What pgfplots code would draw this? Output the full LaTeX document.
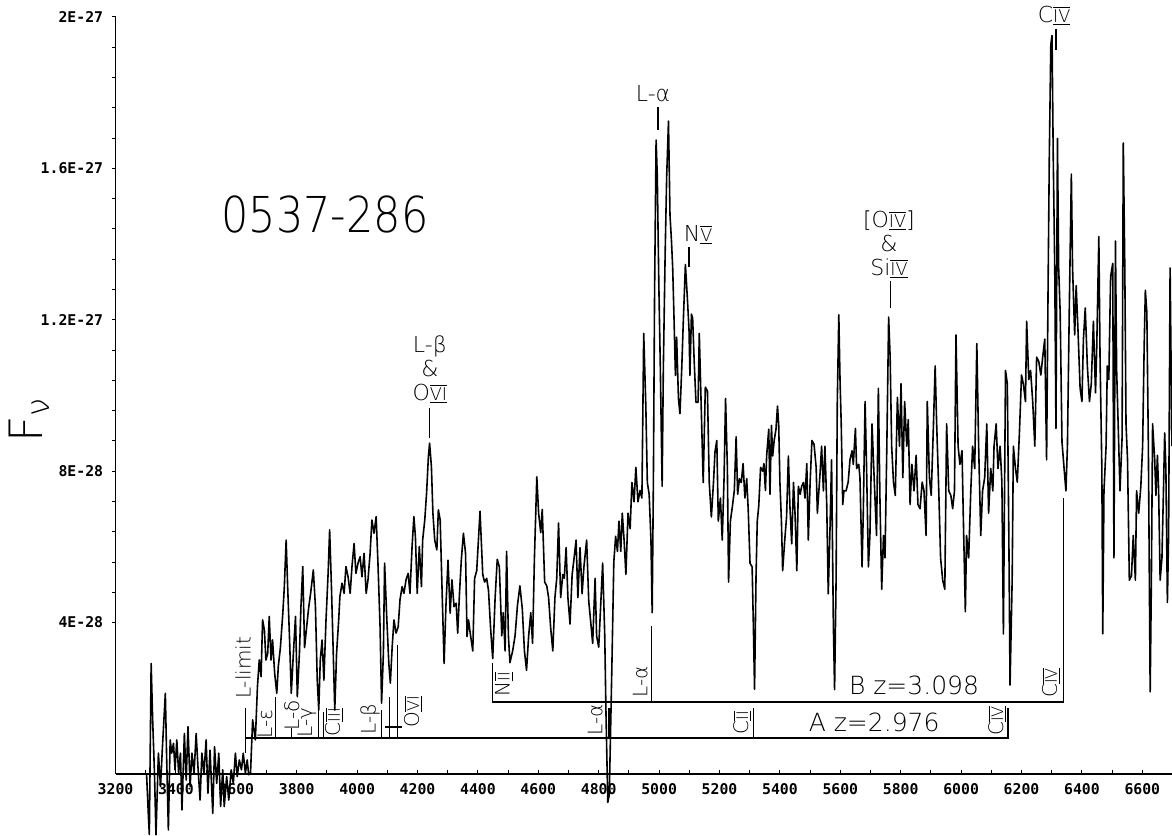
\documentclass[border=0pt]{standalone}
\usepackage{fontspec}
\usepackage{graphicx}
\usepackage{pgfplots}
\usepackage{pgfplotstable}
\pgfplotsset{compat=1.18}
\newfontfamily\thinfont{DejaVu Sans ExtraLight}
\newfontfamily\tickf{DejaVu Sans Mono}
\newcommand{\rn}[1]{\scalebox{0.8}{$\overline{\underline{\mbox{#1}}}$}}
\pgfplotstableread{
x y
3303 -0.03
3309 -1.13
3312 -1.60
3318 2.92
3323 1.43
3329 0.02
3334 -1.61
3342 0.55
3349 -0.33
3356 0.81
3365 2.13
3369 0.55
3375 -1.48
3381 0.90
3386 0.55
3392 0.81
3397 0.11
3403 0.90
3409 0.02
3415 0.55
3420 -0.95
3428 1.07
3434 -0.16
3440 1.25
3447 -0.33
3453 0.55
3460 0.02
3467 1.07
3473 0.19
3480 -0.69
3486 0.55
3493 0.02
3500 0.90
3506 -0.51
3513 0.63
3522 -1.04
3528 0.72
3535 -0.25
3542 0.55
3548 -0.86
3555 0.11
3560 -0.86
3568 -0.07
3575 -0.69
3583 0.11
3590 -0.25
3597 0.55
3603 -0.07
3610 0.37
3617 0.11
3623 0.55
3630 0.02
3636 0.37
3641 -0.02
3647 0.02
3654 1.43
3663 0.90
3670 2.31
3676 3.01
3682 2.57
3687 4.07
3693 3.80
3698 3.01
3704 3.19
3709 4.16
3715 3.01
3720 3.54
3727 2.66
3734 2.13
3739 2.84
3746 3.34
3754 4.25
3759 4.95
3765 6.18
3770 4.95
3776 3.63
3782 2.13
3789 3.19
3796 4.16
3802 2.04
3809 3.19
3814 4.42
3820 5.48
3826 3.34
3833 3.89
3840 4.42
3846 4.77
3855 5.39
3862 4.42
3868 2.48
3873 1.69
3878 3.01
3884 3.54
3890 2.48
3897 4.07
3904 5.30
3909 6.45
3915 4.95
3921 3.19
3926 1.69
3932 3.19
3939 4.07
3943 4.69
3950 5.04
3957 4.77
3963 5.48
3970 5.21
3977 4.77
3983 5.48
3990 6.09
3996 5.30
4003 5.57
4010 5.74
4016 5.21
4023 5.83
4030 4.77
4036 5.13
4043 5.83
4049 6.71
4056 6.36
4063 6.80
4069 5.57
4076 3.89
4081 1.87
4087 3.19
4091 5.57
4098 4.16
4105 2.92
4110 2.40
4116 3.34
4122 4.07
4129 3.72
4136 3.89
4142 4.60
4149 4.95
4155 4.77
4162 5.13
4169 5.30
4175 4.77
4182 6.01
4188 6.80
4193 6.27
4199 4.77
4206 6.01
4213 4.95
4217 6.18
4224 6.71
4230 7.42
4236 8.38
4240 8.74
4246 8.12
4251 6.89
4257 6.18
4264 5.92
4269 6.98
4275 6.71
4281 4.95
4288 2.92
4294 4.42
4301 5.65
4308 4.25
4314 5.13
4321 4.42
4328 4.51
4333 3.72
4339 4.77
4345 5.65
4352 6.36
4359 5.83
4364 3.63
4369 4.07
4374 3.75
4383 3.25
4389 5.17
4396 5.37
4407 6.94
4416 5.27
4422 5.07
4429 5.17
4435 4.85
4442 3.85
4449 3.05
4457 4.66
4464 5.67
4471 5.47
4479 3.65
4484 4.26
4490 3.25
4495 5.88
4501 3.65
4506 2.94
4515 3.25
4523 3.65
4531 4.46
4539 4.97
4547 4.36
4554 3.25
4561 2.74
4568 3.65
4575 4.26
4581 3.45
4587 5.67
4595 7.85
4601 6.89
4608 6.38
4613 6.99
4621 5.07
4628 4.97
4634 4.66
4641 3.85
4648 3.25
4655 4.66
4661 5.17
4667 6.63
4674 4.66
4681 5.27
4686 5.17
4692 5.98
4698 4.66
4705 3.96
4712 5.27
4718 5.67
4725 6.18
4731 4.66
4738 5.98
4745 4.76
4751 5.47
4760 6.18
4767 4.56
4773 4.06
4780 3.45
4788 5.17
4793 3.65
4800 3.35
4806 4.36
4813 5.57
4820 3.65
4824 1.63
4830 -0.75
4835 -0.55
4843 2.60
4850 5.60
4856 6.28
4862 5.88
4867 6.68
4873 5.88
4878 6.89
4884 6.18
4890 5.27
4897 6.89
4904 6.48
4910 7.70
4917 7.19
4923 8.10
4930 7.19
4937 7.49
4943 7.29
4949 11.64
4956 9.72
4961 7.70
4967 7.39
4973 6.18
4977 4.26
4981 7.70
4985 12.75
4990 16.75
4994 15.78
4999 12.95
5004 10.73
5010 7.60
5014 10.73
5020 13.76
5025 15.78
5031 17.25
5036 14.77
5041 14.07
5045 13.36
5049 12.15
5054 10.53
5058 11.54
5064 9.92
5069 9.52
5075 10.73
5080 11.94
5087 13.46
5093 12.65
5099 11.74
5102 10.53
5107 12.15
5111 12.04
5116 10.93
5122 9.82
5129 9.82
5133 11.64
5140 9.52
5146 7.70
5153 10.22
5160 10.12
5166 7.70
5173 6.79
5180 7.70
5185 8.51
5191 8.81
5196 6.68
5203 7.29
5209 6.18
5215 7.80
5220 9.92
5226 8.10
5230 5.07
5236 6.68
5243 7.09
5249 7.49
5255 8.91
5260 7.39
5266 7.80
5272 7.70
5278 8.20
5284 7.29
5290 7.80
5295 6.99
5301 5.57
5308 5.47
5312 3.96
5316 2.24
5321 5.27
5325 6.68
5330 7.09
5336 8.10
5343 8.00
5347 8.20
5352 7.49
5356 8.40
5363 9.11
5367 7.39
5372 9.21
5376 8.40
5381 8.81
5387 9.11
5392 9.72
5396 9.21
5400 7.70
5405 6.68
5409 5.37
5416 6.18
5422 6.79
5428 8.40
5433 7.09
5439 6.08
5445 7.70
5450 6.89
5456 5.37
5461 7.60
5467 7.39
5472 7.60
5478 7.70
5483 7.29
5489 8.20
5494 6.18
5500 7.70
5506 8.81
5513 8.71
5520 8.10
5524 6.89
5533 7.95
5538 8.66
5544 7.48
5549 8.66
5555 7.12
5560 4.76
5566 6.53
5571 8.30
5577 3.94
5581 2.23
5586 5.12
5590 9.84
5595 12.13
5599 10.42
5603 9.25
5608 7.12
5612 7.48
5619 7.48
5626 7.71
5632 8.30
5639 8.54
5643 8.18
5650 9.13
5654 8.07
5661 8.18
5665 7.83
5672 5.47
5676 6.89
5682 9.84
5687 8.07
5693 5.47
5698 6.30
5705 9.25
5709 8.42
5715 7.24
5720 6.30
5726 10.19
5731 7.36
5737 4.88
5743 6.30
5748 5.71
5754 8.66
5760 12.07
5765 11.01
5770 8.66
5776 7.71
5782 7.36
5789 9.95
5796 8.66
5801 10.31
5807 7.83
5813 9.84
5820 8.66
5825 9.36
5831 7.12
5837 8.18
5844 7.48
5851 8.42
5857 7.12
5864 7.01
5871 7.71
5877 7.48
5884 6.30
5888 9.84
5895 7.83
5901 7.36
5908 9.13
5914 10.78
5919 9.25
5926 7.48
5932 5.71
5939 5.12
5946 4.88
5952 9.25
5959 7.48
5966 7.36
5972 7.01
5978 7.48
5983 11.60
5990 8.66
5996 8.18
6003 8.54
6007 6.89
6014 4.29
6018 6.30
6025 5.71
6032 7.48
6038 8.66
6045 8.07
6052 11.37
6058 8.66
6065 6.30
6071 7.48
6078 7.83
6085 9.25
6091 6.89
6098 8.07
6105 7.48
6109 8.66
6116 9.25
6122 8.07
6129 8.66
6135 7.71
6140 3.70
6147 10.66
6153 10.31
6158 6.30
6162 2.35
6169 5.12
6173 8.66
6180 8.07
6186 7.71
6193 9.01
6200 10.54
6206 10.31
6213 9.84
6217 11.96
6224 10.42
6230 10.66
6237 9.84
6244 8.66
6250 11.01
6257 10.90
6264 10.54
6270 11.01
6277 11.49
6283 8.30
6288 12.90
6292 16.32
6297 19.27
6301 19.51
6305 16.32
6310 13.37
6314 9.13
6319 16.79
6323 13.37
6328 12.19
6334 8.77
6341 8.07
6347 7.48
6352 8.66
6358 12.19
6365 15.85
6369 13.37
6376 11.60
6381 12.90
6387 11.72
6394 10.19
6400 9.84
6405 11.49
6411 12.31
6418 10.78
6425 9.84
6431 10.31
6438 11.96
6445 10.07
6449 11.25
6456 14.20
6460 11.01
6466 8.07
6469 3.70
6473 7.48
6480 8.66
6484 10.78
6489 10.42
6495 13.14
6502 13.49
6506 5.71
6511 14.08
6515 10.66
6522 8.66
6526 7.48
6533 8.89
6537 16.67
6542 13.37
6546 9.25
6551 8.30
6557 5.12
6564 5.23
6570 6.30
6577 5.12
6581 7.48
6588 6.89
6595 7.59
6601 8.66
6606 11.25
6610 12.78
6615 12.19
6620 8.66
6626 2.17
6630 5.12
6634 9.25
6641 8.30
6645 7.36
6650 8.42
6654 7.48
6659 5.12
6665 5.71
6670 7.48
6674 9.01
6678 8.07
6683 4.53
6687 6.30
6692 13.37
6698 8.66
}\spec
\tikzset{
  ann/.style={line width=0.6pt},
  rl/.style={font=\thinfont\fontsize{10}{10}\selectfont, rotate=90, inner sep=0pt},
  tl/.style={font=\thinfont\fontsize{11}{12}\selectfont, align=center, inner sep=0pt},
}
\begin{document}
\begin{tikzpicture}
\begin{axis}[
  scale only axis, width=528.25pt, height=378.5pt,
  xmin=3200, xmax=6698.3, ymin=0, ymax=20,
  clip=false,
  axis x line=bottom, axis y line=left,
  axis line style={-, line width=0.6pt},
  xtick={3200,3400,...,6600}, minor x tick num=1,
  ytick={4,8,12,16,20}, yticklabels={4E-28,8E-28,1.2E-27,1.6E-27,2E-27},
  minor y tick num=4,
  tick align=inside,
  major tick length=1.8pt, minor tick length=1.8pt,
  every tick/.style={black, line width=0.5pt},
  y tick style={xshift=-1.8pt},
  /pgf/number format/assume math mode=true,
  /pgf/number format/1000 sep={},
  xticklabel style={font=\tickf\bfseries\fontsize{7.4}{7.4}\selectfont, inner sep=0pt, anchor=north, yshift=-4.5pt},
  yticklabel style={font=\tickf\bfseries\fontsize{7.4}{7.4}\selectfont, inner sep=0pt, anchor=east, xshift=-6pt},
]
\addplot[black, line width=0.8pt, line join=round, mark=none] table[x=x, y=y] {\spec};
% system A
\draw[ann] (axis cs:3631,0.555) -- (axis cs:3631,1.744);
\draw[ann] (axis cs:3631,0.951) -- (axis cs:6155,0.951) -- (axis cs:6155,1.744);
\draw[ann] (axis cs:3731,0.951) -- (axis cs:3731,2.03);
\draw[ann] (axis cs:3783,0.951) -- (axis cs:3783,1.22);
\draw[ann] (axis cs:3871,0.951) -- (axis cs:3871,1.9);
\draw[ann] (axis cs:3890,0.951) -- (axis cs:3890,1.64);
\draw[ann] (axis cs:4081,0.951) -- (axis cs:4081,1.69);
\draw[ann] (axis cs:4108,0.951) -- (axis cs:4108,2.03);
\draw[ann] (axis cs:4134,0.951) -- (axis cs:4134,3.41);
\draw[ann] (axis cs:4093,1.24) -- (axis cs:4148,1.24);
\draw[ann] (axis cs:4834,0.951) -- (axis cs:4834,1.744);
\draw[ann] (axis cs:5312,0.951) -- (axis cs:5312,1.744);
% system B
\draw[ann] (axis cs:4449,2.92) -- (axis cs:4449,1.902) -- (axis cs:6338,1.902) -- (axis cs:6338,7.29);
\draw[ann] (axis cs:4976,1.902) -- (axis cs:4976,3.9);
% rotated labels
\node[rl] at (axis cs:3622,2.80) {L-limit};
\node[rl] at (axis cs:3695,1.32) {L-ε};
\node[rl] at (axis cs:3784,1.56) {L-δ};
\node[rl] at (axis cs:3834,1.35) {L-γ};
\node[rl] at (axis cs:3924,1.37) {C\rn{III}};
\node[rl] at (axis cs:4043,1.45) {L-β};
\node[rl] at (axis cs:4185,1.64) {O\rn{VI}};
\node[rl] at (axis cs:4788,1.43) {L-α};
\node[rl] at (axis cs:5275,1.35) {C\rn{II}};
\node[rl] at (axis cs:6120,1.40) {C\rn{IV}};
\node[rl] at (axis cs:4486,2.38) {N\rn{II}};
\node[rl] at (axis cs:4937,2.43) {L-α};
\node[rl] at (axis cs:6298,2.40) {C\rn{IV}};
\node[font=\thinfont\fontsize{12.5}{12.5}\selectfont, inner sep=0pt] at (axis cs:5712,1.37) {A z=2.976};
\node[font=\thinfont\fontsize{12.5}{12.5}\selectfont, inner sep=0pt] at (axis cs:5844,2.33) {B z=3.098};
% top labels
\draw[ann] (axis cs:4241,9.67) -- (axis cs:4241,8.88);
\node[tl, anchor=south] at (axis cs:4241,9.78) {L-β\\\&\\O\rn{VI}};
\draw[ann] (axis cs:4996,17.62) -- (axis cs:4996,17.01);
\node[tl] at (axis cs:4980,17.97) {L-α};
\draw[ann] (axis cs:5099,13.92) -- (axis cs:5099,13.40);
\node[tl] at (axis cs:5129,14.24) {N\rn{V}};
\draw[ann] (axis cs:5765,13.03) -- (axis cs:5765,12.31);
\node[tl, anchor=south] at (axis cs:5761,13.08) {[O\rn{IV}]\\\&\\Si\rn{IV}};
\draw[ann] (axis cs:6314,19.68) -- (axis cs:6314,19.13);
\node[tl] at (axis cs:6308,20.03) {C\rn{IV}};
% title and axis label
\node[font=\thinfont\fontsize{21.5}{21.5}\selectfont, yscale=1.15, inner sep=0pt] at (axis cs:3894,14.77) {0537-286};
\node[font=\thinfont\fontsize{23}{23}\selectfont, rotate=90, anchor=base west, inner sep=0pt] at (axis cs:2957,8.745) {F\textsubscript{ν}};
\coordinate (bbll) at (axis cs:2817.5,-1.638);
\coordinate (bbur) at (axis cs:6698.3,20.449);
\end{axis}
\pgfresetboundingbox
\useasboundingbox (bbll) rectangle (bbur);
\end{tikzpicture}
\end{document}
